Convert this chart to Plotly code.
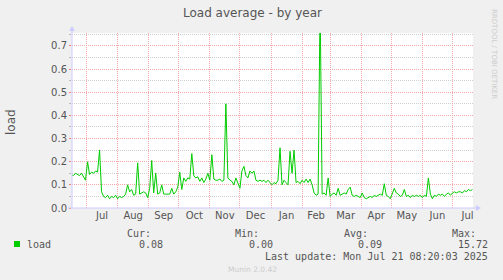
import pandas as pd
import plotly.graph_objects as go

# ---- data (2-day samples starting 2024-06-16) ----
start_date = "2024-06-16"
step_days = 2
load_values = [
    0.145, 0.14, 0.15, 0.145, 0.14, 0.15, 0.135, 0.12, 0.2, 0.145,
    0.155, 0.15, 0.16, 0.155, 0.25, 0.07, 0.05, 0.045, 0.055, 0.04,
    0.05, 0.045, 0.055, 0.04, 0.05, 0.045, 0.05, 0.06, 0.1, 0.07,
    0.08, 0.055, 0.06, 0.195, 0.06, 0.065, 0.07, 0.065, 0.045, 0.085,
    0.205, 0.065, 0.15, 0.06, 0.065, 0.1, 0.06, 0.06, 0.06, 0.06,
    0.085, 0.06, 0.07, 0.09, 0.155, 0.08, 0.13, 0.115, 0.13, 0.125,
    0.235, 0.14, 0.13, 0.135, 0.115, 0.13, 0.11, 0.125, 0.15, 0.12,
    0.23, 0.125, 0.12, 0.12, 0.125, 0.115, 0.12, 0.45, 0.13, 0.12,
    0.115, 0.1, 0.13, 0.11, 0.085, 0.16, 0.18, 0.14, 0.13, 0.16,
    0.15, 0.16, 0.12, 0.115, 0.12, 0.115, 0.12, 0.11, 0.12, 0.11,
    0.1, 0.11, 0.105, 0.12, 0.26, 0.1, 0.12, 0.11, 0.1, 0.245,
    0.15, 0.25, 0.11, 0.115, 0.105, 0.12, 0.11, 0.125, 0.11, 0.125,
    0.1, 0.065, 0.055, 0.06, 0.9, 0.06, 0.065, 0.055, 0.13, 0.05,
    0.06, 0.065, 0.055, 0.085, 0.055, 0.06, 0.065, 0.06, 0.08, 0.09,
    0.055, 0.05, 0.055, 0.05, 0.045, 0.065, 0.045, 0.04, 0.045, 0.05,
    0.045, 0.055, 0.05, 0.055, 0.06, 0.055, 0.105, 0.055, 0.05, 0.04,
    0.06, 0.085, 0.065, 0.06, 0.05, 0.055, 0.08, 0.05, 0.055, 0.045,
    0.055, 0.05, 0.055, 0.05, 0.055, 0.045, 0.055, 0.05, 0.13, 0.06,
    0.04, 0.055, 0.05, 0.06, 0.055, 0.06, 0.05, 0.06, 0.065, 0.055,
    0.065, 0.07, 0.065, 0.07, 0.07, 0.065, 0.075, 0.07, 0.08, 0.075,
    0.08,
]
dates = pd.date_range(start_date, periods=len(load_values), freq=f"{step_days}D")

series_name = "load"
y_title = "load"
stat_labels = ["Cur:", "Min:", "Avg:", "Max:"]
stat_values = ["0.08", "0.00", "0.09", "15.72"]
last_update = "Last update: Mon Jul 21 08:20:03 2025"
title_text = "Load average - by year"

# ---- layout geometry (pixels) ----
W, H = 503, 280
L, R, T, B = 72, 473, 33, 208


def px(x):
    return (x - L) / (R - L)


def py(y):
    return (B - y) / (B - T)


GREEN = "#00cc00"
TXT = "#555555"
AXIS = "#ccccff"
MAJ = "#f0a8a8"
MIN = "#cfcfcf"
DOT = "1px,1px"

fig = go.Figure()
fig.add_trace(go.Scatter(x=dates, y=load_values, mode="lines",
                         line=dict(color=GREEN, width=1), name=series_name,
                         showlegend=False, hoverinfo="skip"))

fig.update_layout(
    width=W, height=H,
    margin=dict(l=L, r=W - R, t=T, b=H - B, pad=0),
    paper_bgcolor="#f0f0f0", plot_bgcolor="#ffffff",
    font=dict(family="DejaVu Sans", size=10, color=TXT),
    showlegend=False,
)

fig.update_xaxes(
    type="date",
    range=["2024-06-16 12:00", "2025-07-21 12:00"],
    dtick="M1", tick0="2024-07-01", ticklabelmode="period",
    tickformat="%b", ticks="", showgrid=True,
    gridcolor=MAJ, griddash=DOT, gridwidth=1,
    showline=False, zeroline=False,
    tickfont=dict(family="DejaVu Sans", size=10, color=TXT),
)
fig.update_yaxes(
    range=[0, 0.756], dtick=0.1, tick0=0, tickformat=".1f",
    showgrid=True, gridcolor=MAJ, griddash=DOT, gridwidth=1,
    ticks="outside", ticklen=2, tickcolor="#f08080", tickwidth=1,
    minor=dict(dtick=0.05, tick0=0, showgrid=True, gridcolor=MIN, griddash=DOT, gridwidth=1,
               ticks="outside", ticklen=2, tickcolor="#bbbbbb"),
    zeroline=False, showline=False,
    tickfont=dict(family="DejaVu Sans", size=10, color=TXT),
)

shapes = []
# axes with arrows
shapes.append(dict(type="line", xref="paper", yref="paper", x0=px(L), x1=px(L), y0=py(B), y1=py(30),
                   line=dict(color=AXIS, width=1)))
shapes.append(dict(type="line", xref="paper", yref="paper", x0=px(68), x1=px(477), y0=py(B), y1=py(B),
                   line=dict(color=AXIS, width=1)))
shapes.append(dict(type="path", xref="paper", yref="paper",
                   path=f"M {px(69)} {py(31)} L {px(75)} {py(31)} L {px(72)} {py(26)} Z",
                   fillcolor=AXIS, line=dict(color=AXIS, width=0)))
shapes.append(dict(type="path", xref="paper", yref="paper",
                   path=f"M {px(476)} {py(205)} L {px(476)} {py(211)} L {px(481)} {py(208)} Z",
                   fillcolor=AXIS, line=dict(color=AXIS, width=0)))
# legend swatch
shapes.append(dict(type="rect", xref="paper", yref="paper", x0=px(14), x1=px(20), y0=py(247), y1=py(241),
                   fillcolor=GREEN, line=dict(width=0)))
fig.update_layout(shapes=shapes)

MONO = "DejaVu Sans Mono"
ann = []


def add_text(text, x, y, xanchor="right", size=10, color=TXT, family=MONO, angle=0):
    ann.append(dict(text=text, x=px(x), y=py(y), xref="paper", yref="paper", showarrow=False,
                    xanchor=xanchor, yanchor="middle", textangle=angle, borderpad=0,
                    font=dict(family=family, size=size, color=color)))


add_text(title_text, 252, 13, xanchor="center", size=12, family="DejaVu Sans")
add_text(y_title, 11, 122, xanchor="center", size=12, family="DejaVu Sans", angle=-90)
add_text(series_name, 26, 244, xanchor="left")
label_right = [151, 259, 368, 476]
value_right = [163, 273, 382, 488]
for lab, v, lx, vx in zip(stat_labels, stat_values, label_right, value_right):
    add_text(lab, lx + 1, 233)
    add_text(v, vx + 1, 244)
add_text(last_update, 489, 256)
add_text("Munin 2.0.42", 252, 269, xanchor="center", size=7.5, color="#cccccc", family="DejaVu Sans")
add_text("RRDTOOL / TOBI OETIKER", 494, 54, xanchor="center", size=7, color="#cccccc",
         family="DejaVu Sans", angle=90)
fig.update_layout(annotations=ann)

fig.write_html("out.html")
